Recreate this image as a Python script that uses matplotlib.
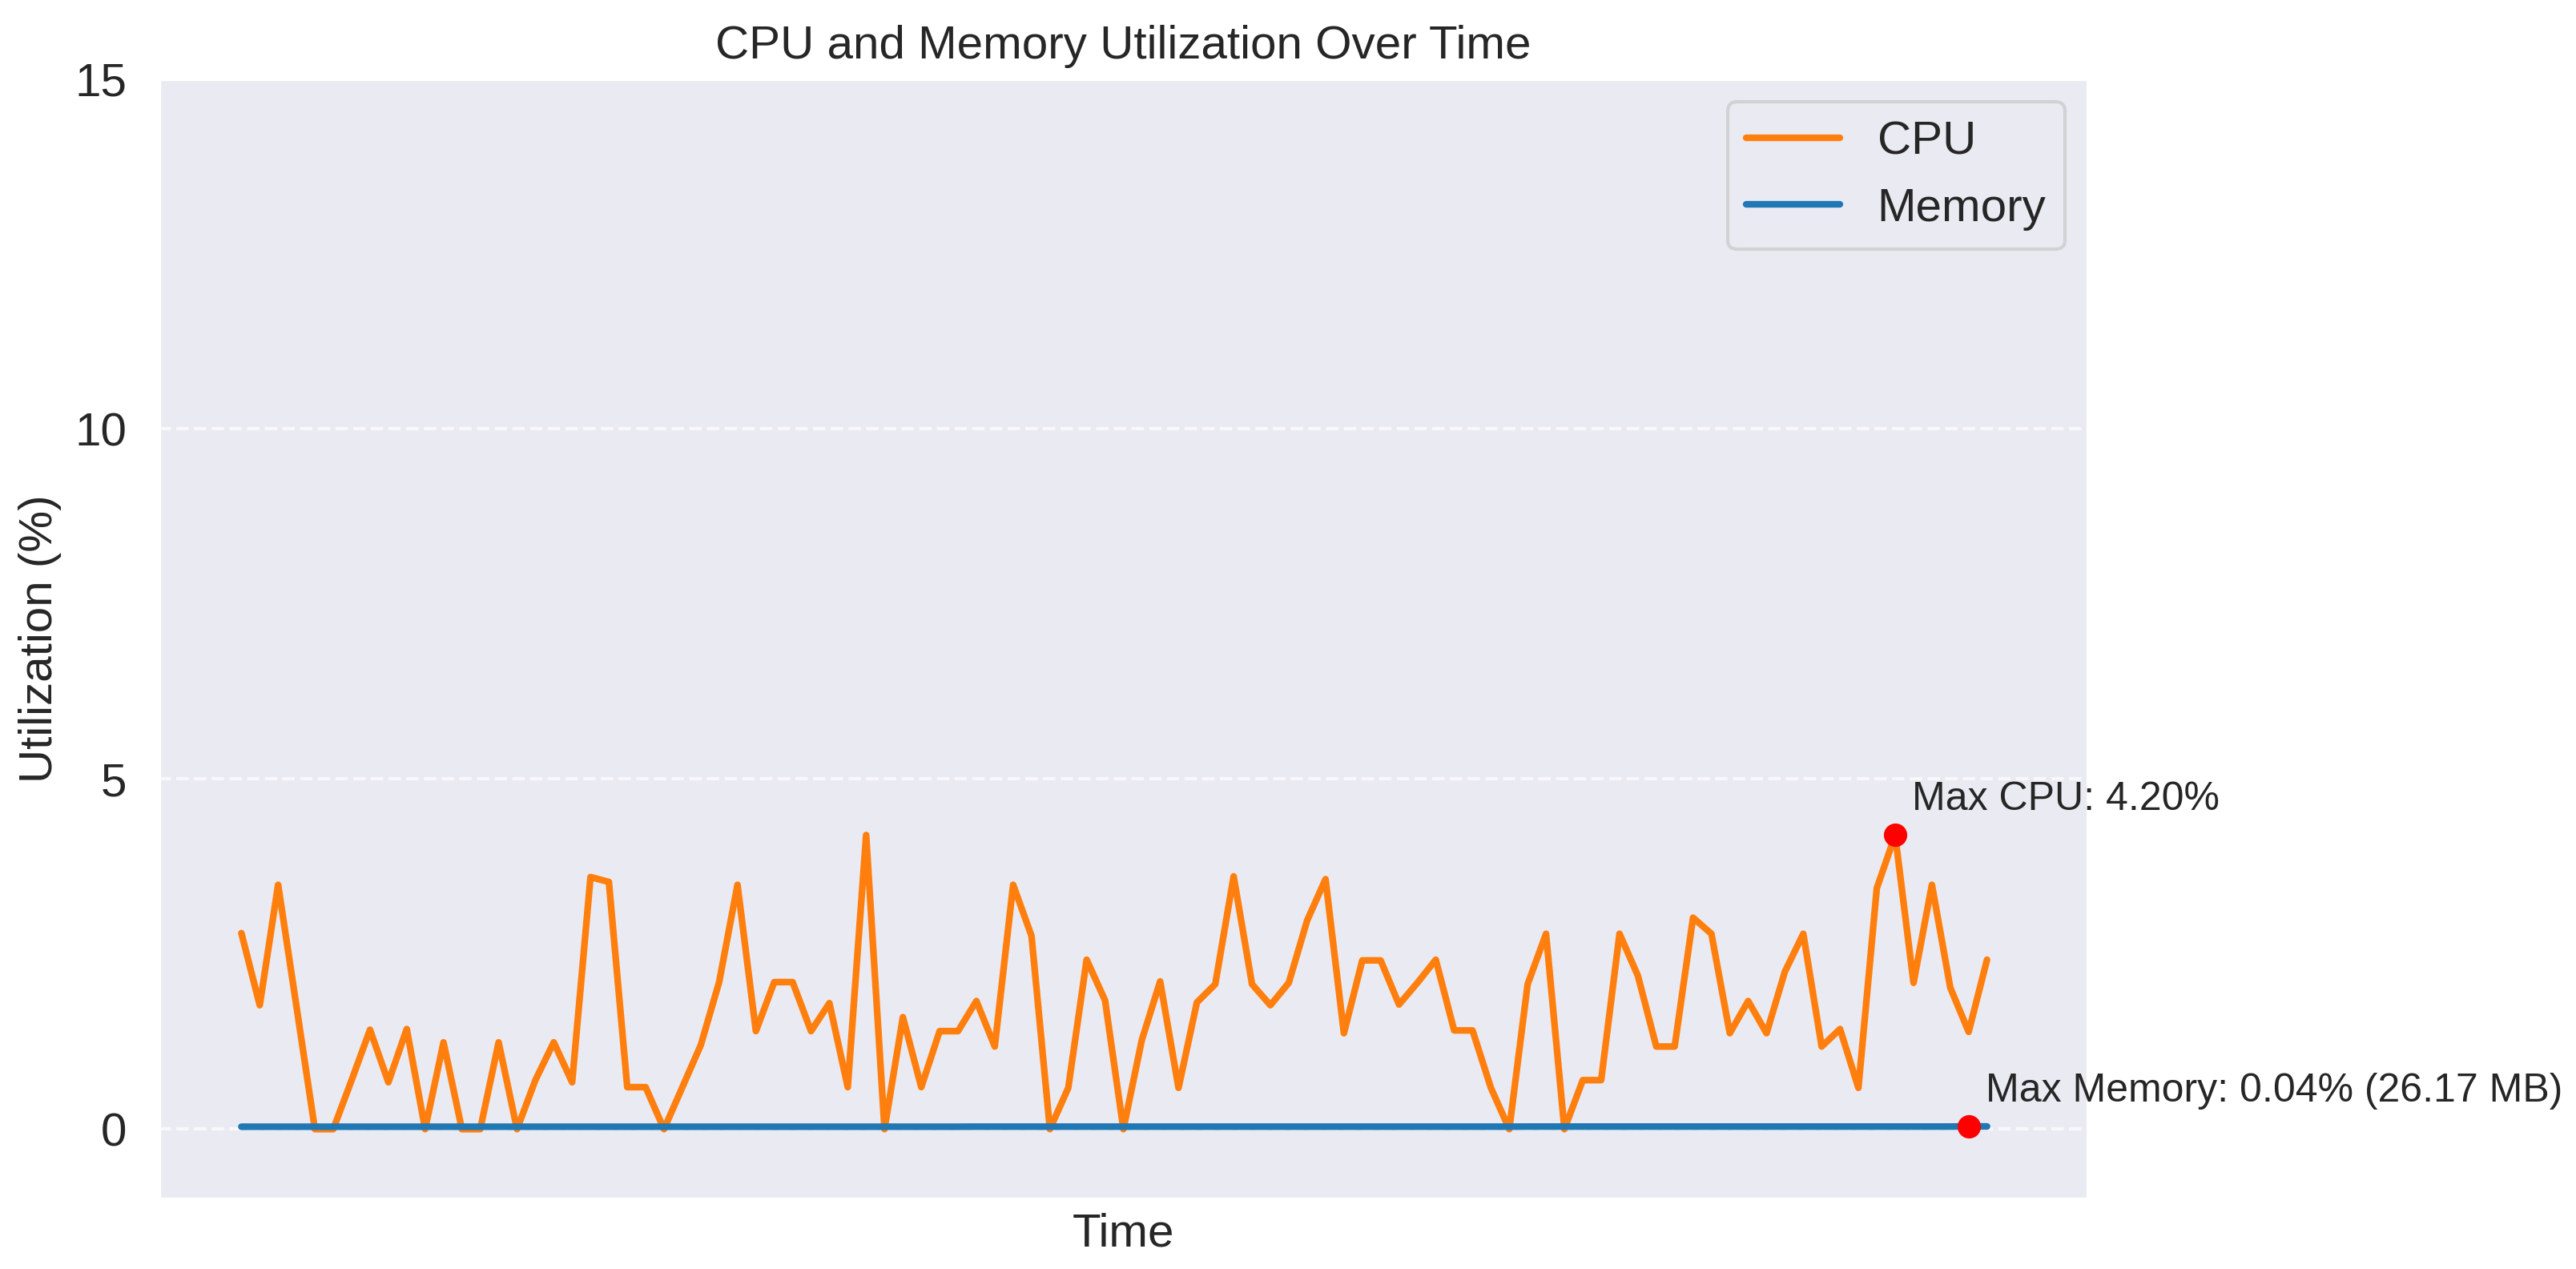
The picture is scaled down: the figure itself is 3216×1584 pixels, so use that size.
import matplotlib
matplotlib.use("Agg")
import matplotlib.pyplot as plt
import seaborn as sns
import numpy as np

cpu = [2.80, 1.77, 3.49, 1.75, 0.0, 0.0, 0.70, 1.42, 0.67, 1.43,
       0.0, 1.24, 0.0, 0.0, 1.24, 0.0, 0.70, 1.24, 0.67, 3.60,
       3.53, 0.60, 0.60, 0.0, 0.60, 1.20, 2.10, 3.49, 1.40, 2.10,
       2.10, 1.40, 1.80, 0.60, 4.20, 0.0, 1.60, 0.60, 1.40, 1.40,
       1.83, 1.18, 3.49, 2.76, 0.0, 0.59, 2.42, 1.84, 0.0, 1.27,
       2.11, 0.59, 1.81, 2.07, 3.61, 2.07, 1.77, 2.09, 2.98, 3.57,
       1.37, 2.41, 2.41, 1.78, 2.09, 2.42, 1.41, 1.41, 0.59, 0.0,
       2.07, 2.79, 0.0, 0.70, 0.70, 2.79, 2.19, 1.18, 1.18, 3.02,
       2.79, 1.37, 1.83, 1.37, 2.25, 2.79, 1.18, 1.43, 0.59, 3.44,
       4.20, 2.09, 3.49, 2.02, 1.39, 2.42]
memory = [0.035] * 40 + [0.036] * 30 + [0.037] * 24 + [0.040, 0.039]
max_mem_mb = 26.17
cpu_max_idx = 90
mem_max_idx = 94

sns.set_theme(style="darkgrid")
plt.rcParams['font.family'] = ['Liberation Sans', 'DejaVu Sans']

fig = plt.figure(figsize=(10.72, 5.28), dpi=300)
ax = fig.add_axes([0.0616, 0.055, 0.749, 0.883])
x = np.arange(len(cpu))
ax.plot(x, cpu, color='#ff7f0e', lw=2, label='CPU')
ax.plot(x, memory, color='#1f77b4', lw=2, label='Memory')
ax.plot(cpu_max_idx, cpu[cpu_max_idx], 'o', color='red', ms=6)
ax.plot(mem_max_idx, memory[mem_max_idx], 'o', color='red', ms=6)
ax.annotate(f"Max CPU: {cpu[cpu_max_idx]:.2f}%", (cpu_max_idx, cpu[cpu_max_idx]),
            xytext=(5, 5), textcoords='offset points', fontsize=12, ha='left', va='bottom')
ax.annotate(f"Max Memory: {memory[mem_max_idx]:.2f}% ({max_mem_mb:.2f} MB)",
            (mem_max_idx, memory[mem_max_idx]),
            xytext=(5, 5), textcoords='offset points', fontsize=12, ha='left', va='bottom')
ax.set_ylim(-1, 15)
ax.set_xlim(-4.5, 100.5)
ax.set_yticks([0, 5, 10, 15])
ax.set_xticks([])
ax.tick_params(labelsize=14)
ax.grid(axis='x', visible=False)
ax.grid(axis='y', linestyle='--', alpha=0.7)
ax.set_title("CPU and Memory Utilization Over Time", fontsize=14)
ax.set_xlabel("Time", fontsize=14)
ax.set_ylabel("Utilization (%)", fontsize=14)
ax.legend(loc='upper right', fontsize=14, frameon=True)
fig.savefig("out.png", dpi=300)
